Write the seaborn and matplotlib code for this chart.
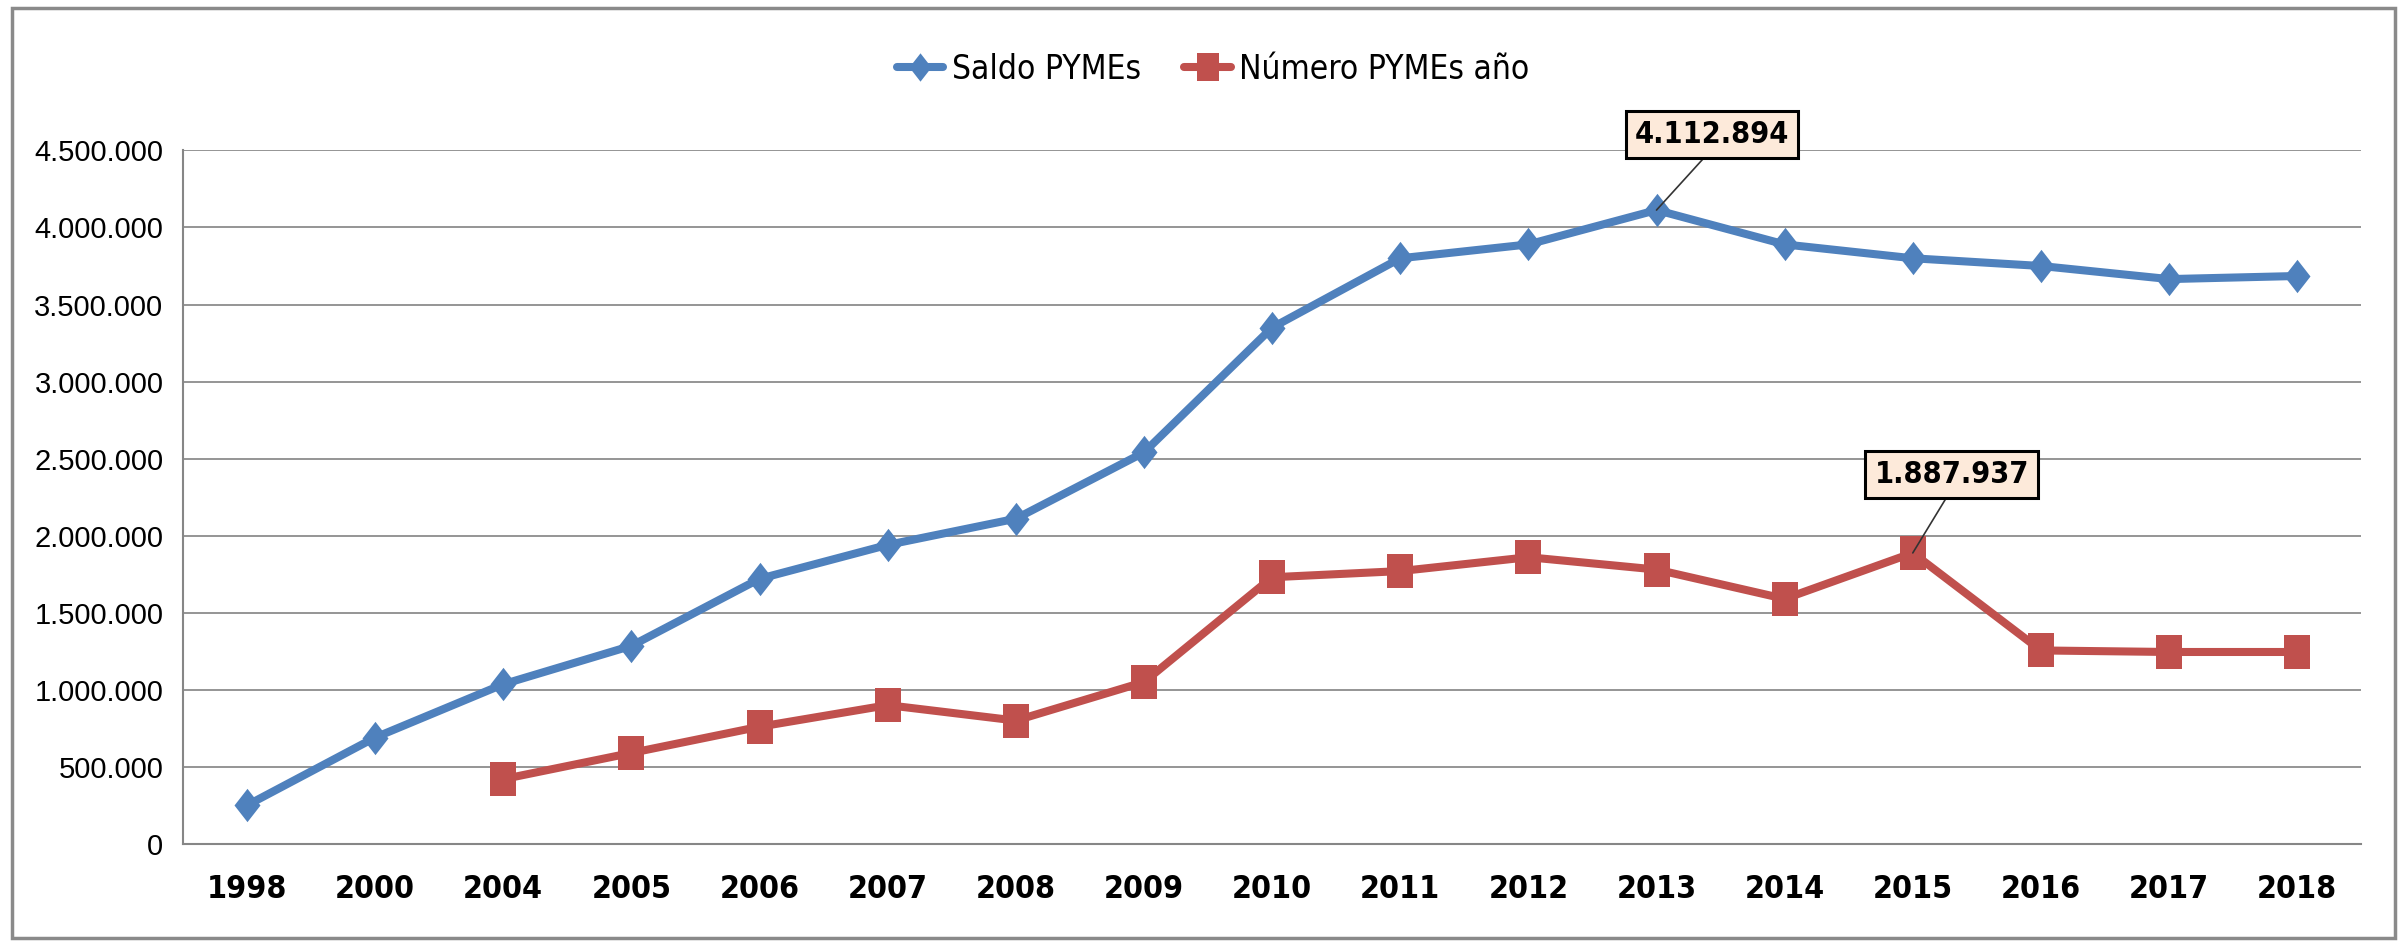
import numpy as np
import pandas as pd
import matplotlib
matplotlib.use("Agg")
import matplotlib.pyplot as plt
from matplotlib.patches import Rectangle
import seaborn as sns

years = ["1998", "2000", "2004", "2005", "2006", "2007", "2008", "2009", "2010",
         "2011", "2012", "2013", "2014", "2015", "2016", "2017", "2018"]
saldo = [250000, 690000, 1036000, 1285000, 1720000, 1940000, 2110000, 2540000, 3350000,
         3800000, 3890000, 4112894, 3890000, 3800000, 3750000, 3665000, 3685000]
numero = [np.nan, np.nan, 420000, 590000, 760000, 900000, 800000, 1050000, 1730000,
          1770000, 1860000, 1780000, 1590000, 1887937, 1255000, 1245000, 1245000]

BLUE = "#4F81BD"
RED = "#C0504D"

sns.set_style("white")
plt.rcParams["font.family"] = ["Liberation Sans", "DejaVu Sans"]
plt.rcParams["text.color"] = "black"
plt.rcParams["xtick.color"] = "black"
plt.rcParams["ytick.color"] = "black"

# condensed face for the narrow labels
narrow = dict(family="DejaVu Sans", stretch="condensed")

df = pd.DataFrame({"pos": np.arange(len(years)), "saldo": saldo, "numero": numero})

fig = plt.figure(figsize=(24.07, 9.46), dpi=100)
ax = fig.add_axes([0.076, 0.108, 0.905, 0.733])

diamond = [(0, 1), (0.78, 0), (0, -1), (-0.78, 0), (0, 1)]
square = [(-0.79, -1), (0.79, -1), (0.79, 1), (-0.79, 1), (-0.79, -1)]

sns.lineplot(data=df, x="pos", y="saldo", ax=ax, color=BLUE, lw=5.8,
             marker=diamond, markersize=24, markeredgewidth=0,
             label="Saldo PYMEs", zorder=3)
sns.lineplot(data=df.dropna(), x="pos", y="numero", ax=ax, color=RED, lw=5.8,
             marker=square, markersize=24, markeredgewidth=0,
             label="Número PYMEs año", zorder=3)

ax.set_xlim(-0.5, len(years) - 0.5)
ax.set_ylim(0, 4500000)
ax.set_xlabel("")
ax.set_ylabel("")

# x labels at centres, ticks at category boundaries
ax.set_xticks(np.arange(len(years)))
ax.set_xticklabels(years, fontsize=23, fontweight="bold", **narrow)
ax.set_xticks(np.arange(-0.5, len(years)), minor=True)
ax.tick_params(axis="x", which="major", length=0, pad=22)
ax.tick_params(axis="x", which="minor", length=13, width=1.2, color="#868686", direction="out")

yt = np.arange(0, 4500001, 500000)
ax.set_yticks(yt)
ax.set_yticklabels([f"{v:,}".replace(",", ".") for v in yt], fontsize=21)
ax.tick_params(axis="y", length=6, width=1.2, color="#868686", direction="out", pad=8)

ax.yaxis.grid(True, color="#8c8c8c", lw=1.3)
ax.set_axisbelow(True)
for s in ["top", "right"]:
    ax.spines[s].set_visible(False)
for s in ["left", "bottom"]:
    ax.spines[s].set_color("#868686")
    ax.spines[s].set_linewidth(1.5)

# data labels on the peaks
box = dict(boxstyle="square,pad=0.3", fc="#FDEADA", ec="black", lw=2.2)
for xi, yi, dx, dy in [(11, saldo[11], 40, 44), (13, numero[13], 28, 46)]:
    ax.annotate(f"{int(yi):,}".replace(",", "."), xy=(xi, yi), xytext=(dx, dy),
                textcoords="offset points", ha="center", va="bottom",
                fontsize=22, fontweight="bold", bbox=box, **narrow,
                arrowprops=dict(arrowstyle="-", color="#333333", lw=1.2,
                                relpos=(0.5, 0), shrinkA=0, shrinkB=0), zorder=5)

ax.legend(loc="center", bbox_to_anchor=(0.504, 0.927), bbox_transform=fig.transFigure,
          ncol=2, frameon=False, prop=dict(size=24, **narrow),
          handlelength=1.4, columnspacing=1.3, handletextpad=0.25, markerscale=0.85)

fig.patches.append(Rectangle((0.005, 0.008), 0.99, 0.984, transform=fig.transFigure,
                             fill=False, ec="#8a8a8a", lw=2.5))

fig.savefig("out.png", dpi=100, facecolor="white")
